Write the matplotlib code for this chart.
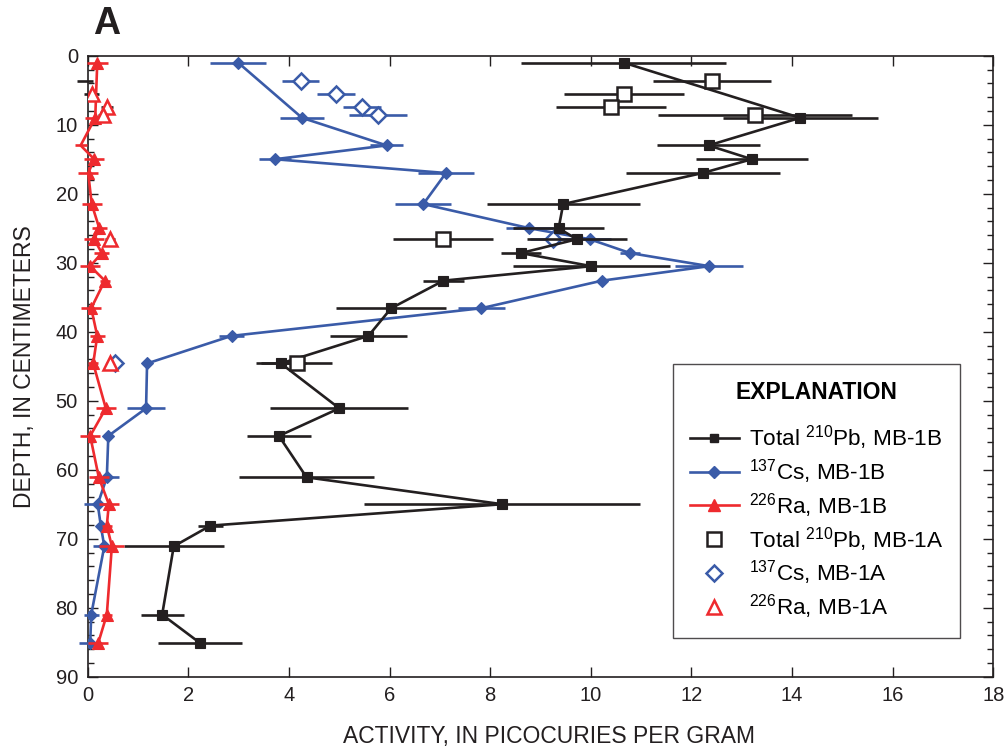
import numpy as np
import matplotlib
matplotlib.use("Agg")
import matplotlib.pyplot as plt
from matplotlib.lines import Line2D
from matplotlib.ticker import MultipleLocator

plt.rcParams['font.family'] = ['Liberation Sans', 'DejaVu Sans']
plt.rcParams['mathtext.fontset'] = 'custom'
plt.rcParams['mathtext.rm'] = 'Liberation Sans'
plt.rcParams['mathtext.default'] = 'regular'

# Core MB-1B: depth (cm) and activities (pCi/g) with counting errors
depth_1b = [1.0, 9.0, 13.0, 15.0, 17.0, 21.5, 25.0, 26.6, 28.6, 30.5, 32.6,
            36.6, 40.6, 44.6, 51.1, 55.1, 61.1, 65.0, 68.1, 71.1, 81.0, 85.1]
pb_1b = [10.65, 14.16, 12.34, 13.20, 12.22, 9.45, 9.36, 9.72, 8.61, 10.01, 7.07,
         6.03, 5.58, 3.84, 5.00, 3.80, 4.35, 8.24, 2.44, 1.71, 1.48, 2.23]
pb_1b_err = [2.04, 1.54, 1.02, 1.12, 1.53, 1.52, 0.90, 0.99, 0.39, 1.56, 0.40,
             1.10, 0.77, 0.50, 1.37, 0.63, 1.34, 2.74, 0.24, 0.99, 0.43, 0.83]
cs_1b = [2.99, 4.26, 5.94, 3.72, 7.12, 6.67, 8.78, 9.98, 10.78, 12.35, 10.22,
         7.82, 2.86, 1.18, 1.16, 0.41, 0.38, 0.20, 0.26, 0.33, 0.07, 0.05]
cs_1b_err = [0.55, 0.44, 0.33, 0.32, 0.56, 0.56, 0.46, 0.42, 0.20, 0.68, 0.10,
             0.47, 0.25, 0.05, 0.37, 0.05, 0.25, 0.27, 0.05, 0.22, 0.15, 0.22]
ra_1b = [0.19, 0.15, -0.14, 0.13, 0.01, 0.08, 0.23, 0.13, 0.28, 0.05, 0.34,
         0.07, 0.19, 0.11, 0.36, 0.05, 0.22, 0.42, 0.38, 0.48, 0.38, 0.21]
ra_1b_err = [0.21, 0.20, 0.12, 0.20, 0.20, 0.20, 0.15, 0.20, 0.15, 0.20, 0.10,
             0.20, 0.15, 0.10, 0.20, 0.20, 0.20, 0.20, 0.10, 0.25, 0.10, 0.20]

# Core MB-1A
depth_1a = [3.6, 5.6, 7.5, 8.6, 26.6, 44.6]
pb_1a = [12.41, 10.66, 10.40, 13.26, 7.06, 4.15]
pb_1a_err = [1.17, 1.20, 1.10, 1.93, 1.00, 0.70]
cs_1a = [4.23, 4.93, 5.45, 5.77, 9.24, 0.54]
cs_1a_err = [0.36, 0.38, 0.37, 0.58, 0.45, 0.05]
ra_1a = [-0.05, 0.08, 0.38, 0.31, 0.44, 0.44]
ra_1a_err = [0.16, 0.15, 0.12, 0.10, 0.10, 0.05]

x_ticks = list(range(0, 19, 2))
y_ticks = list(range(0, 91, 10))

BLACK = '#231f20'
BLUE = '#3a5ba8'
RED = '#ee2a2e'

fig = plt.figure(figsize=(10.08, 7.52), dpi=100)
ax = fig.add_axes([0.087, 0.1001, 0.8985, 0.8258])

LW = 1.9


def profile(vals, errs, depths, color, marker, ms, filled, line, z, ecolor=None):
    vals = np.asarray(vals, float)
    depths = np.asarray(depths, float)
    ax.errorbar(vals, depths, xerr=errs, fmt='none', ecolor=ecolor or color,
                elinewidth=LW, capsize=0, zorder=z, clip_on=False)
    if line:
        ax.plot(vals, depths, '-', color=color, lw=LW, zorder=z + 0.1,
                clip_on=False)
    # values below zero are shown by their error bar only
    show = vals >= 0
    if filled:
        ax.plot(vals[show], depths[show], linestyle='none', marker=marker,
                ms=ms, mfc=color, mec=color, mew=0.8, zorder=z + 0.2)
    else:
        ax.plot(vals[show], depths[show], linestyle='none', marker=marker,
                ms=ms, mfc='white', mec=color, mew=1.8, zorder=z + 0.2)


profile(cs_1b, cs_1b_err, depth_1b, BLUE, 'D', 6, True, True, 3)
profile(cs_1a, cs_1a_err, depth_1a, BLUE, 'D', 8, False, False, 3.5)
profile(pb_1b, pb_1b_err, depth_1b, BLACK, 's', 7, True, True, 4)
profile(pb_1a, pb_1a_err, depth_1a, BLACK, 's', 10, False, False, 4.5)
profile(ra_1b, ra_1b_err, depth_1b, RED, '^', 8.5, True, True, 5)
profile(ra_1a, ra_1a_err, depth_1a, RED, '^', 10, False, False, 5.5,
        ecolor=BLACK)

ax.set_xlim(0, 18)
ax.set_ylim(90, 0)
ax.set_xticks(x_ticks)
ax.set_yticks(y_ticks)
ax.yaxis.set_minor_locator(MultipleLocator(2))
ax.tick_params(which='both', direction='in', top=True, right=True,
               labelsize=14.5, colors=BLACK, width=1)
ax.tick_params(which='major', length=7, pad=7)
ax.tick_params(which='minor', length=4)
for s in ax.spines.values():
    s.set_linewidth(1.2)
    s.set_color(BLACK)

ax.set_xlabel('ACTIVITY, IN PICOCURIES PER GRAM', fontsize=16.5,
              color=BLACK)
ax.xaxis.set_label_coords(0.509, -0.077)
ax.set_ylabel('DEPTH, IN CENTIMETERS', fontsize=16.5, color=BLACK,
              labelpad=14)

fig.text(0.092, 0.968, 'A', fontsize=27, fontweight='bold', color=BLACK,
         va='center', ha='left')

handles = [
    Line2D([], [], color=BLACK, lw=LW, marker='s', ms=6, mfc=BLACK, mec=BLACK),
    Line2D([], [], color=BLUE, lw=LW, marker='D', ms=6, mfc=BLUE, mec=BLUE),
    Line2D([], [], color=RED, lw=LW, marker='^', ms=8, mfc=RED, mec=RED),
    Line2D([], [], linestyle='none', marker='s', ms=10, mfc='white',
           mec=BLACK, mew=1.8),
    Line2D([], [], linestyle='none', marker='D', ms=8, mfc='white',
           mec=BLUE, mew=1.8),
    Line2D([], [], linestyle='none', marker='^', ms=10, mfc='white',
           mec=RED, mew=1.8),
]
labels = [r'Total $^{210}$Pb, MB-1B', r'$^{137}$Cs, MB-1B',
          r'$^{226}$Ra, MB-1B', r'Total $^{210}$Pb, MB-1A',
          r'$^{137}$Cs, MB-1A', r'$^{226}$Ra, MB-1A']
leg = ax.legend(handles, labels, loc='lower right',
                bbox_to_anchor=(0.9635, 0.062), fontsize=16.2, frameon=True,
                fancybox=False, edgecolor=BLACK, handlelength=2.2,
                handletextpad=0.45, labelspacing=0.22, borderpad=0.75,
                borderaxespad=0,
                title='EXPLANATION',
                title_fontproperties={'weight': 'bold', 'size': 16.5})
leg.get_frame().set_linewidth(1.0)
leg._legend_box.sep = 14

fig.savefig('out.png', dpi=100)
